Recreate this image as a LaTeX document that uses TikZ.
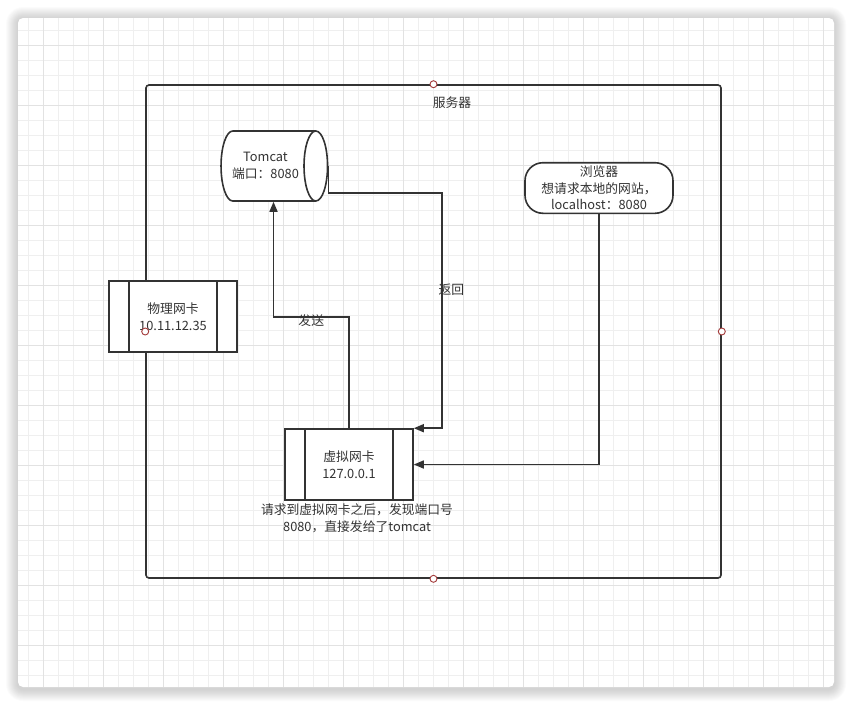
\documentclass[tikz,border=0pt]{standalone}
\usepackage{fontspec}
\setmainfont{Noto Sans CJK SC}
\usepackage{tikz}
\usetikzlibrary{arrows.meta,positioning,calc,shapes.geometric}
\definecolor{ink}{HTML}{333333}
\definecolor{portred}{HTML}{A33A3A}
\definecolor{gridlo}{HTML}{EFEFEF}
\definecolor{gridhi}{HTML}{E2E2E2}

\begin{document}
\begin{tikzpicture}[x=1pt,y=-1pt,
   txt/.style={font=\fontsize{12.8}{16.5}\selectfont,text=ink,align=center},
   frame/.style={draw=ink,line width=1.6pt,rounded corners=3pt,minimum width=575pt,minimum height=493pt,inner sep=0pt},
   port/.style={circle,draw=portred,fill=white,line width=0.9pt,inner sep=0pt,minimum size=7pt},
   nic/.style={txt,draw=ink,fill=white,line width=1.6pt,minimum width=128pt,minimum height=71pt,
      path picture={\draw[ink,line width=1.6pt]
         ([xshift=20pt]path picture bounding box.north west) -- ([xshift=20pt]path picture bounding box.south west)
         ([xshift=-20pt]path picture bounding box.north east) -- ([xshift=-20pt]path picture bounding box.south east);}},
   db/.style={txt,cylinder,draw=ink,fill=white,line width=1.6pt,minimum width=70pt,minimum height=106.5pt,aspect=0.7,inner xsep=2pt},
   pill/.style={txt,draw=ink,fill=white,line width=1.6pt,rounded corners=18pt,minimum width=148pt,minimum height=50pt},
   link/.style={draw=ink,line width=1.6pt,-{Triangle[length=10pt,width=8pt]}}]
   \useasboundingbox (0,0) rectangle (852,705);

   % card with its shadow and grid
   \foreach \s in {1,...,12}
      \fill[black,opacity=0.014,rounded corners={5+\s}] ({18-\s},{19-\s}) rectangle ({834+\s},{689+\s});
   \fill[white,rounded corners=5pt] (18,18) rectangle (834,687);
   \begin{scope}
      \clip[rounded corners=5pt] (18,18) rectangle (834,687);
      \foreach \gx in {28,43,...,823} \draw[gridlo,line width=0.8pt] (\gx,18) -- (\gx,687);
      \foreach \gy in {30,45,...,675} \draw[gridlo,line width=0.8pt] (18,\gy) -- (834,\gy);
      \foreach \gx in {43,103,...,823} \draw[gridhi,line width=0.8pt] (\gx,18) -- (\gx,687);
      \foreach \gy in {45,105,...,675} \draw[gridhi,line width=0.8pt] (18,\gy) -- (834,\gy);
   \end{scope}

   % server box
   \node (server) [frame] at (433.5,331.5) {};
   \node (serverlbl) [txt] at (452,103) {服务器};

   \path (265.5,166) node (tomcat) [db]   {Tomcat\\端口：8080}
         (599,188)   node (browser) [pill] {浏览器\\想请求本地的网站，\\localhost：8080}
         (173,316.5) node (pnic) [nic]    {物理网卡\\10.11.12.35}
         (349,464.5) node (vnic) [nic]    {虚拟网卡\\127.0.0.1};
   \node (vnote) [txt,inner sep=0pt,below=3pt of vnic,xshift=8pt] {请求到虚拟网卡之后，发现端口号\\8080，直接发给了tomcat};

   % connectors
   \draw[link] (vnic.north) |- node[txt,pos=0.75,yshift=-4pt] {发送} ([xshift=8pt,yshift=-115pt]tomcat.south) -- ([xshift=8pt]tomcat.south);
   \draw[link] (tomcat.east) -- ++(0,-27pt) -| node[txt,pos=0.705,right=-4pt,inner sep=0pt] {返回} ([xshift=28pt]vnic.north east) -- (vnic.north east);
   \draw[link] (browser.south) |- (vnic.east);

   % connection points
   \node (pn) [port] at (server.north) {};
   \node (pe) [port] at (server.east) {};
   \node (ps) [port] at (server.south) {};
   \node (pw) [port] at (server.west) {};
\end{tikzpicture}
\end{document}
